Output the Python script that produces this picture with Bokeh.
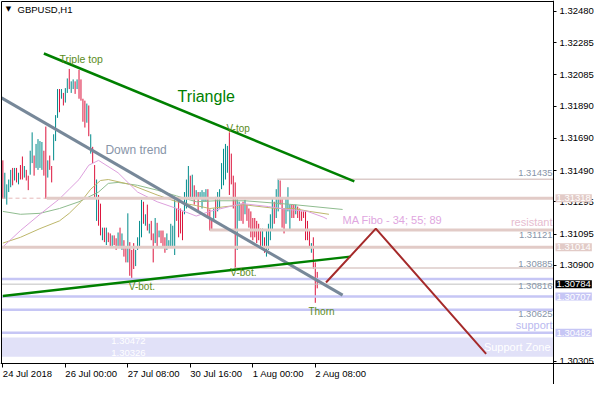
from bokeh.plotting import figure
from bokeh.models import Range1d, FixedTicker, NumeralTickFormatter, Label, ColumnDataSource
from bokeh.embed import file_html
from bokeh.resources import INLINE

# ---------------- data ----------------
symbol_title = "GBPUSD,H1"

bar_high = [
    1.31553, 1.31476, 1.31404, 1.31434, 1.31494, 1.31506, 1.31506, 1.31506, 1.31476, 1.31524,
    1.31577, 1.31518, 1.31494, 1.31458, 1.31613, 1.31727, 1.31583, 1.31655, 1.31685, 1.31673,
    1.31667, 1.31613, 1.31763, 1.31553, 1.31583, 1.31518, 1.31715, 1.31834, 1.31996, 1.31996,
    1.31996, 1.31972, 1.32002, 1.32062, 1.32121, 1.32044, 1.32056, 1.32044, 1.32056, 1.32115,
    1.32056, 1.31936, 1.31924, 1.31906, 1.31894, 1.31715, 1.31637, 1.31524, 1.31434, 1.31338,
    1.31284, 1.31135, 1.31135, 1.31135, 1.31105, 1.31099, 1.31087, 1.31087, 1.31069, 1.31105,
    1.31135, 1.31099, 1.31057, 1.31015, 1.31224, 1.31045, 1.30997, 1.31039, 1.30997, 1.31075,
    1.31177, 1.31308, 1.31296, 1.31218, 1.31278, 1.31159, 1.31177, 1.31099, 1.31195, 1.31165,
    1.31117, 1.31117, 1.31117, 1.31075, 1.31099, 1.31057, 1.31159, 1.31147, 1.31326, 1.31254,
    1.31314, 1.31254, 1.31236, 1.31356, 1.31434, 1.31518, 1.31458, 1.31464, 1.31398, 1.31368,
    1.31356, 1.31356, 1.31368, 1.31356, 1.31374, 1.31374, 1.31248, 1.31195, 1.31254, 1.31326,
    1.31356, 1.31374, 1.31536, 1.31625, 1.31655, 1.31643, 1.31727, 1.31595, 1.31458, 1.31416,
    1.31314, 1.31296, 1.31284, 1.31296, 1.31308, 1.31278, 1.31254, 1.31236, 1.31195, 1.31195,
    1.31177, 1.31159, 1.31129, 1.31129, 1.31075, 1.31117, 1.31159, 1.31218, 1.31314, 1.31296,
    1.31374, 1.31435, 1.31428, 1.31314, 1.31254, 1.31314, 1.31386, 1.31278, 1.31278, 1.31278,
    1.31278, 1.31266, 1.31254, 1.31236, 1.31236, 1.31236, 1.31177, 1.31117, 1.31039, 1.31075,
    1.30919, 1.30860,
]
bar_low = [
    1.31314, 1.31314, 1.31278, 1.31356, 1.31386, 1.31398, 1.31428, 1.31416, 1.31404, 1.31434,
    1.31434, 1.31446, 1.31428, 1.31368, 1.31464, 1.31536, 1.31458, 1.31506, 1.31494, 1.31506,
    1.31494, 1.31458, 1.31314, 1.31446, 1.31494, 1.31416, 1.31553, 1.31673, 1.31817, 1.31852,
    1.31936, 1.31894, 1.31912, 1.31972, 1.31996, 1.31972, 1.31996, 1.31966, 1.31996, 1.31936,
    1.31924, 1.31793, 1.31757, 1.31787, 1.31703, 1.31595, 1.31536, 1.31314, 1.31177, 1.31147,
    1.31087, 1.31057, 1.31045, 1.31027, 1.31045, 1.31015, 1.31015, 1.31027, 1.30997, 1.31015,
    1.31015, 1.30997, 1.30955, 1.30919, 1.30919, 1.30836, 1.30812, 1.30878, 1.30896, 1.30997,
    1.31015, 1.31075, 1.31159, 1.31147, 1.31117, 1.31099, 1.31057, 1.30919, 1.31039, 1.31015,
    1.31075, 1.31039, 1.31015, 1.30979, 1.30997, 1.31015, 1.31015, 1.31009, 1.30965, 1.31177,
    1.31075, 1.31099, 1.31057, 1.31218, 1.31254, 1.31314, 1.31314, 1.31314, 1.31278, 1.31314,
    1.31236, 1.31314, 1.31254, 1.31296, 1.31296, 1.31195, 1.31117, 1.31117, 1.31177, 1.31195,
    1.31236, 1.31254, 1.31374, 1.31398, 1.31434, 1.31476, 1.31338, 1.31404, 1.31254, 1.30878,
    1.30997, 1.31177, 1.31177, 1.31159, 1.31218, 1.31177, 1.31135, 1.31075, 1.31057, 1.31075,
    1.31039, 1.31057, 1.31015, 1.30997, 1.30979, 1.30955, 1.30997, 1.31057, 1.31117, 1.31159,
    1.31195, 1.31236, 1.31278, 1.31135, 1.31099, 1.31159, 1.31236, 1.31117, 1.31195, 1.31195,
    1.31218, 1.31195, 1.31177, 1.31177, 1.31195, 1.31057, 1.31057, 1.31015, 1.30979, 1.30878,
    1.30668, 1.30758,
]
bar_dir = list(
    "duuuududud" "dudduuduuu" "uddudduuud" "uduuduudud" "dddududdud"
    "dududduddu" "dudduddduu" "uudududdud" "uddduuuuud" "ddduuududu"
    "duuuudddud" "uuuuuudddd" "uudduddddd" "ddduduuuud" "uuddduuudd"
    "udddddddud" "dd"
)

ma34_idx = [0, 9, 19, 29, 34, 39, 44, 49, 59, 69, 79, 89, 99, 106, 116, 123, 136, 146, 156, 164, 166]
ma34_val = [1.31015, 1.31117, 1.31218, 1.31314, 1.31374, 1.31434, 1.31523, 1.31553, 1.31476, 1.31356,
            1.31296, 1.31254, 1.31207, 1.31236, 1.31266, 1.31284, 1.31266, 1.31248, 1.31236, 1.31201, 1.31189]
ma55_idx = [0, 9, 19, 29, 34, 40, 45, 50, 54, 65, 79, 89, 99, 106, 123, 140, 149, 157, 167]
ma55_val = [1.31039, 1.31075, 1.31129, 1.31177, 1.31224, 1.31296, 1.31374, 1.31428, 1.31434, 1.31404,
            1.31338, 1.31296, 1.31272, 1.31254, 1.31278, 1.31254, 1.31254, 1.31236, 1.31218]
ma89_idx = [0, 9, 19, 29, 39, 49, 54, 59, 69, 79, 89, 99, 109, 124, 149, 174]
ma89_val = [1.31236, 1.31218, 1.31224, 1.31254, 1.31296, 1.31356, 1.31410, 1.31416, 1.31398, 1.31368,
            1.31332, 1.31296, 1.31302, 1.31302, 1.31278, 1.31248]

date_tick_idx = [0, 32, 64, 96, 128, 160]
date_tick_text = ["24 Jul 2018", "26 Jul 00:00", "27 Jul 08:00", "30 Jul 16:00", "1 Aug 00:00", "2 Aug 08:00"]
price_ticks = [1.32480, 1.32285, 1.32085, 1.31890, 1.31690, 1.31490, 1.31295, 1.31095, 1.30900, 1.30305]

pink_level_price = [1.31318, 1.31121, 1.31014]
pink_level_start = [22.5, 106, -0.7]
thin_level_price = [1.31435, 1.30885]
thin_level_start = [140.5, 118.5]
blue_level_price = [1.30816, 1.30707, 1.30625, 1.30482]
bid_price = [1.30784]
dashed_level_price = [1.31318]
dashed_level_start = [-0.7]
dashed_level_end = [22.5]
zone_bottom = [1.30333]
zone_top = [1.30453]

triangle_top_idx = [21, 180]
triangle_top_px = [1.32217, 1.31422]
triangle_bot_idx = [0, 178]
triangle_bot_px = [1.30710, 1.30955]
downtrend_idx = [-0.7, 174]
downtrend_px = [1.31941, 1.30716]
projection_idx = [165.5, 191, 247.5]
projection_px = [1.30794, 1.31129, 1.30351]

OLIVE = "#5b8c1c"
notes = [
    ("Triple top", 29, 1.32181, "left", OLIVE, "10.5px"),
    ("Triangle", 89.5, 1.31948, "left", "#008000", "16px"),
    ("Down trend", 52.5, 1.31619, "left", "#8795a8", "12px"),
    ("V-top", 114.5, 1.31751, "left", OLIVE, "10px"),
    ("V-bot.", 64.5, 1.30770, "left", OLIVE, "10px"),
    ("V-bot.", 116.5, 1.30854, "left", OLIVE, "10px"),
    ("Thorn", 156.5, 1.30615, "left", OLIVE, "10px"),
    ("MA Fibo - 34; 55; 89", 174, 1.31183, "left", "#e0a6e0", "11px"),
    ("resistant", 281.5, 1.31171, "right", "#e6bccf", "11px"),
    ("support", 281.5, 1.30531, "right", "#b9b9ef", "11px"),
    ("Support Zone", 280.5, 1.30393, "right", "white", "11px"),
    ("1.31435", 281.5, 1.31476, "right", "#8795a8", "9.5px"),
    ("1.31121", 281.5, 1.31087, "right", "#8795a8", "9.5px"),
    ("1.30885", 281.5, 1.30907, "right", "#8795a8", "9.5px"),
    ("1.30816", 281.5, 1.30770, "right", "#8795a8", "9.5px"),
    ("1.30625", 281.5, 1.30597, "right", "#8795a8", "9.5px"),
    ("1.30472", 55.5, 1.30429, "left", "white", "9.5px"),
    ("1.30326", 55.5, 1.30357, "left", "white", "9.5px"),
]

PINK = "#e2cbc7"
LAV = "#c6c6f5"
box_text = ["1.31318", "1.31014", "1.30707", "1.30482", "1.30784"]
box_price = [1.31318, 1.31014, 1.30707, 1.30482, 1.30784]
box_fill = [PINK, PINK, LAV, LAV, "black"]

# ---------------- layout (pixels) ----------------
W, H = 594, 384
CH_LEFT, CH_RIGHT, CH_TOP, CH_BOTTOM = 1, 553, 1, 363   # chart area inside the canvas
X_START, X_END = -0.7, 282.0
Y_START, Y_END = 1.30291, 1.32540
ppx = (X_END - X_START) / (CH_RIGHT - CH_LEFT)      # data per pixel (x)
ppy = (Y_END - Y_START) / (CH_BOTTOM - CH_TOP)      # data per pixel (y)
XR = Range1d(X_START - CH_LEFT * ppx, X_END + (W - CH_RIGHT) * ppx)
YR = Range1d(Y_START - (H - CH_BOTTOM) * ppy, Y_END + CH_TOP * ppy)
FONT = "Liberation Sans"

p = figure(width=W, height=H, output_backend="svg", toolbar_location=None,
           x_range=XR, y_range=YR, y_axis_location="right",
           min_border=0, min_border_left=0, min_border_right=0,
           min_border_top=0, min_border_bottom=0)
p.outline_line_color = None
p.xgrid.visible = False
p.ygrid.visible = False
p.background_fill_color = "white"
p.border_fill_color = "white"

# axes, drawn at the edges of the chart area
p.yaxis.fixed_location = X_END
p.yaxis.ticker = FixedTicker(ticks=price_ticks, minor_ticks=[])
p.yaxis.formatter = NumeralTickFormatter(format="0.00000")
p.yaxis.major_label_text_font = FONT
p.yaxis.major_label_text_font_size = "9.5px"
p.yaxis.major_label_text_color = "black"
p.yaxis.major_tick_in = 0
p.yaxis.major_tick_out = 3
p.yaxis.major_label_standoff = 3
p.yaxis.axis_line_color = "black"

p.xaxis.fixed_location = Y_START
p.xaxis.ticker = FixedTicker(ticks=date_tick_idx, minor_ticks=[])
p.xaxis.major_label_overrides = {t: "" for t in date_tick_idx}
p.xaxis.major_tick_in = 0
p.xaxis.major_tick_out = 4
p.xaxis.axis_line_color = "black"

# support zone band
p.quad(left=[X_START], right=[X_END], bottom=zone_bottom, top=zone_top,
       fill_color="#e1e1f8", line_color=None)

# candles (high-low bars)
n = min(len(bar_high), len(bar_low), len(bar_dir))
colors = ["#008b8b" if d == "u" else "#dc143c" for d in bar_dir[:n]]
src = ColumnDataSource(dict(x=list(range(n)), hi=bar_high[:n], lo=bar_low[:n], c=colors))
p.segment(x0="x", y0="lo", x1="x", y1="hi", line_color="c", line_width=1, source=src)

# moving averages
p.line(ma89_idx, ma89_val, line_color="#8fbc8f", line_width=1)
p.line(ma55_idx, ma55_val, line_color="#bdb76b", line_width=1)
p.line(ma34_idx, ma34_val, line_color="#dda0dd", line_width=1)

# horizontal levels
def to_end(vals):
    return [X_END] * len(vals)

p.segment(x0=pink_level_start, y0=pink_level_price, x1=to_end(pink_level_price),
          y1=pink_level_price, line_color=PINK, line_width=3)
p.segment(x0=dashed_level_start, y0=dashed_level_price, x1=dashed_level_end,
          y1=dashed_level_price, line_color="#e6b9b9", line_width=1, line_dash="4 3")
p.segment(x0=thin_level_start, y0=thin_level_price, x1=to_end(thin_level_price),
          y1=thin_level_price, line_color="#dccbc9", line_width=1.5)
p.segment(x0=[X_START] * len(blue_level_price), y0=blue_level_price,
          x1=to_end(blue_level_price), y1=blue_level_price, line_color=LAV, line_width=2.5)
p.segment(x0=[X_START], y0=bid_price, x1=[X_END], y1=bid_price, line_color="#c0c0c0", line_width=1)

# trend lines
p.line(downtrend_idx, downtrend_px, line_color="#778899", line_width=3)
p.line(triangle_top_idx, triangle_top_px, line_color="#008000", line_width=2.5)
p.line(triangle_bot_idx, triangle_bot_px, line_color="#008000", line_width=2.5)
p.line(projection_idx, projection_px, line_color="#a52a2a", line_width=2)

# chart border (left and top; right/bottom are the axis lines)
p.line([X_START, X_START, X_END], [Y_START, Y_END, Y_END], line_color="black", line_width=1)

# notes
for txt, xi, yp, al, col, sz in notes:
    p.add_layout(Label(x=xi, y=yp, text=txt, text_align=al, text_baseline="middle",
                       text_color=col, text_font=FONT, text_font_size=sz))

# title
p.add_layout(Label(x=1.5, y=1.32492, text="\u25bc", text_align="left", text_baseline="middle",
                   text_color="black", text_font="DejaVu Sans", text_font_size="7px"))
p.add_layout(Label(x=7.5, y=1.32492, text=symbol_title, text_align="left", text_baseline="middle",
                   text_color="black", text_font=FONT, text_font_size="9.5px"))

# price boxes on the axis
for t, yp, fc in zip(box_text, box_price, box_fill):
    p.add_layout(Label(x=X_END + 2 * ppx, y=yp, text=t, text_align="left", text_baseline="middle",
                       text_color="white", text_font=FONT, text_font_size="9.5px",
                       background_fill_color=fc, background_fill_alpha=1.0, padding=1))

# date labels (left-aligned at their ticks, below the chart)
date_y = Y_START - 10 * ppy
for xi, t in zip(date_tick_idx, date_tick_text):
    p.add_layout(Label(x=xi, y=date_y, text=t, text_align="left", text_baseline="middle",
                       text_color="black", text_font=FONT, text_font_size="9.5px"))

open("out.html", "w").write(file_html(p, INLINE))
